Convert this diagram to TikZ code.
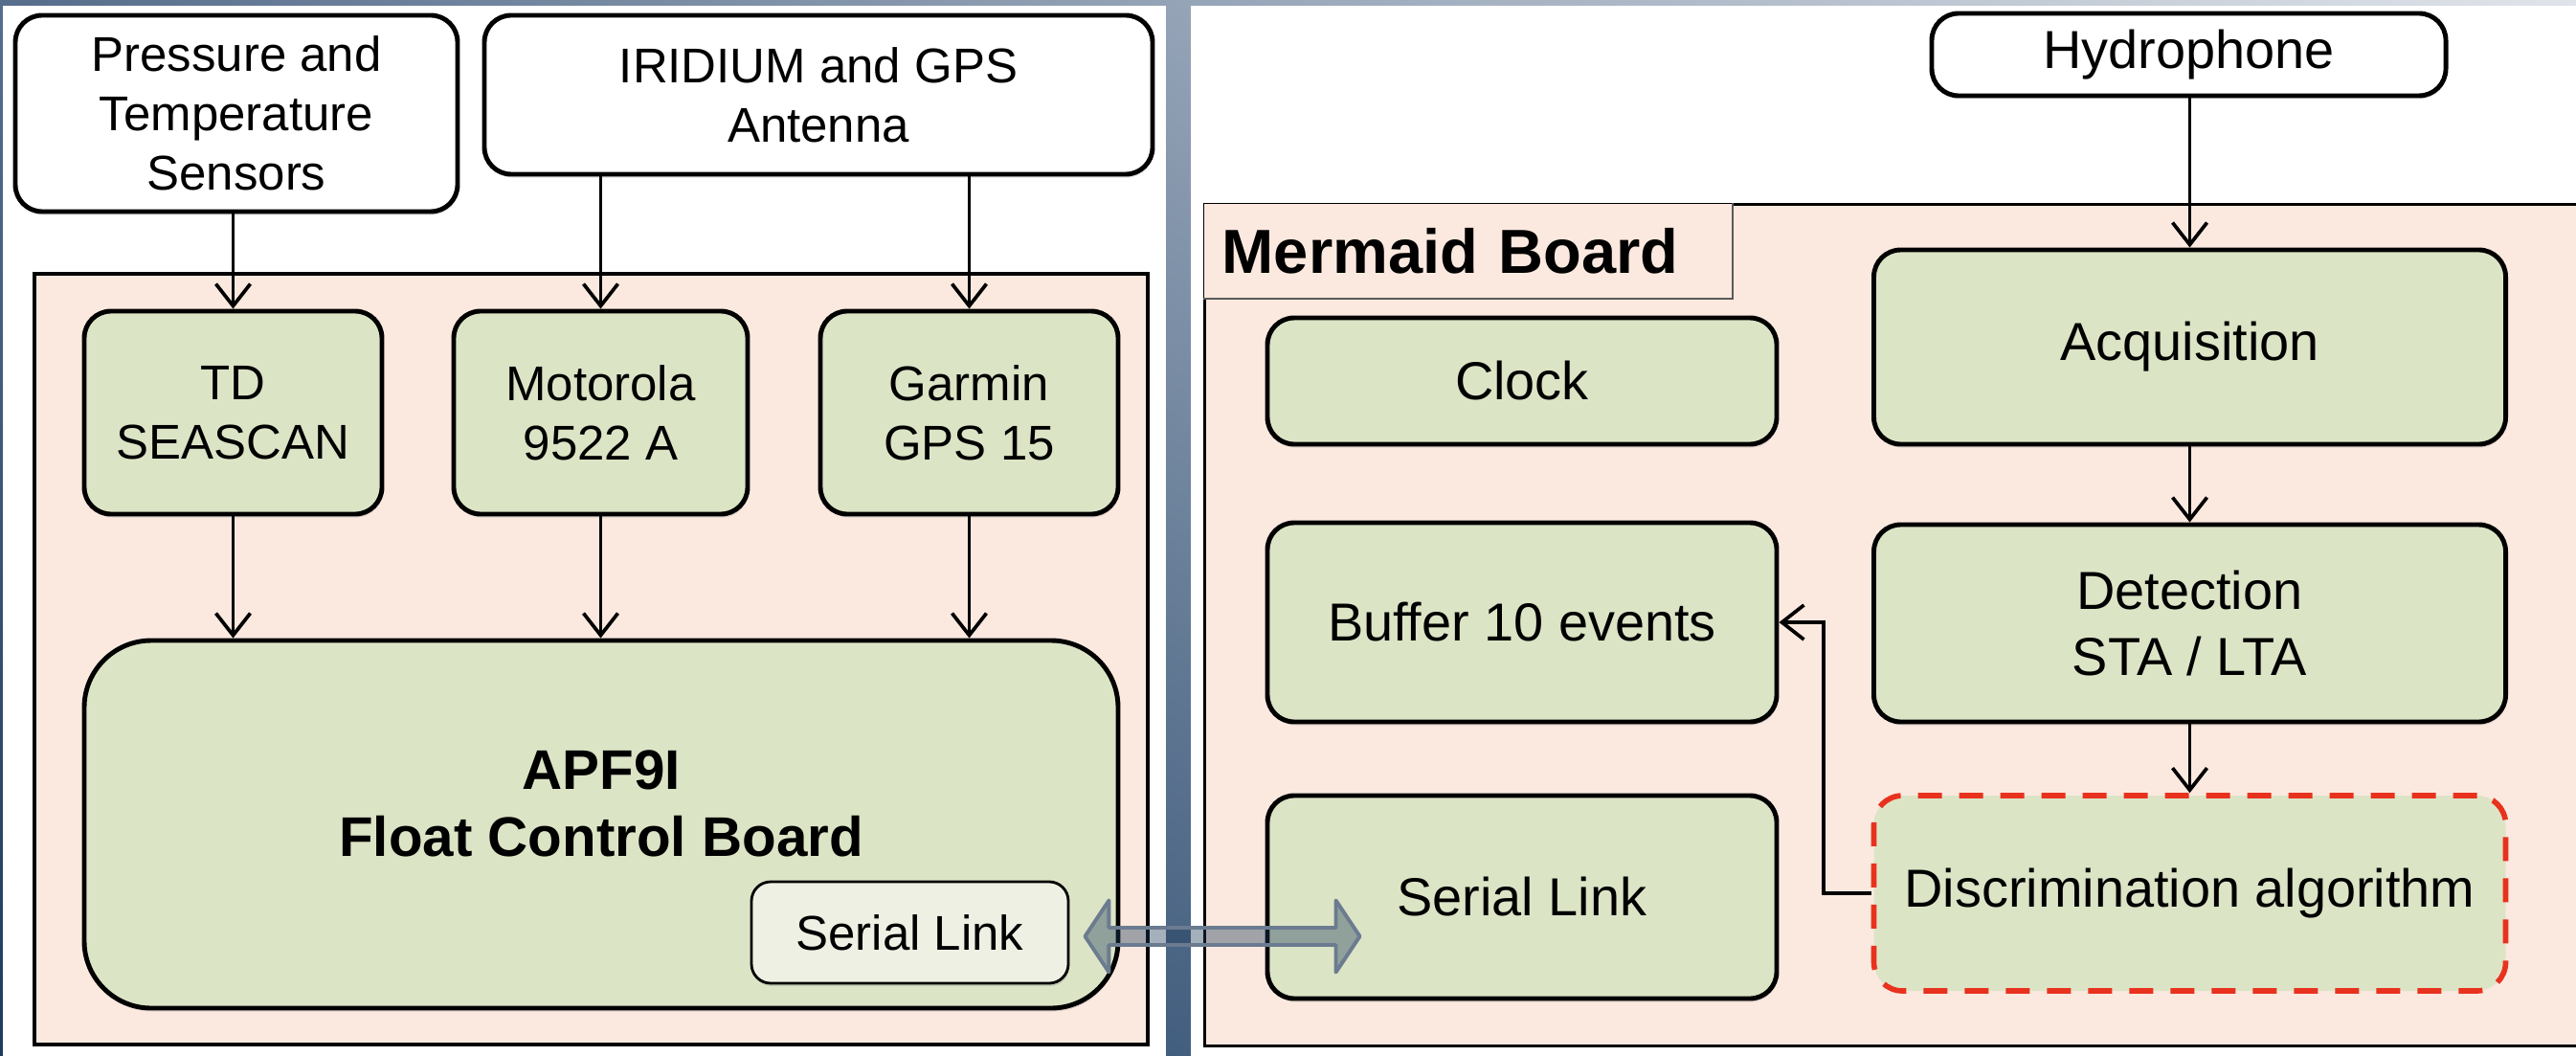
\documentclass[tikz,border=0pt]{standalone}
\usepackage{fontspec}
\setmainfont{Liberation Sans}
\usepackage{tikz}
\usetikzlibrary{calc, positioning, arrows.meta, shadows, shadings}

\definecolor{boardpink}{HTML}{FBE9DF}
\definecolor{blockgreen}{HTML}{DCE4C6}
\definecolor{linkfill}{HTML}{EEF0E3}
\definecolor{frameul}{HTML}{566E8C}
\definecolor{frameur}{HTML}{E0E4EA}
\definecolor{framell}{HTML}{1C3B5F}
\definecolor{framelr}{HTML}{7088A4}
\definecolor{arrowline}{HTML}{6B7B90}
\definecolor{arrowfill}{HTML}{1E3A5A}
\definecolor{algored}{HTML}{E8321E}

\begin{document}
\begin{tikzpicture}[
        font=\fontsize{14.5}{17.6}\selectfont,
        board/.style={draw, line width=0.9pt, fill=boardpink, inner sep=0pt},
        board_title/.style={fill=boardpink, inner xsep=0.19cm, inner ysep=0pt, text width=5.14cm, align=left, font=\fontsize{18.5}{22}\selectfont\bfseries},
        hw_box/.style={draw, line width=1.4pt, rounded corners=0.28cm, fill=white, align=center, drop shadow={shadow xshift=0.01cm, shadow yshift=-0.035cm, opacity=0.25}},
        block/.style={hw_box, fill=blockgreen},
        link_box/.style={draw, line width=0.8pt, rounded corners=0.2cm, fill=linkfill, drop shadow={shadow xshift=0.01cm, shadow yshift=-0.03cm, opacity=0.25}},
        algo_box/.style={draw=algored, line width=1.6pt, dash pattern=on 0.25cm off 0.18cm, rounded corners=0.3cm, fill=blockgreen, align=center},
        title/.style={align=center, font=\fontsize{16.6}{19.9}\selectfont\bfseries},
        arrow/.style={-{Straight Barb[length=2.3mm, width=3.6mm]}, line width=1.05pt},
        link_arrow/.style={draw=arrowline, line width=1.1pt, fill=arrowfill, fill opacity=0.4, line join=round}
    ]

    % ================= Background =================
    \useasboundingbox (0,0) rectangle (26.91,-11.03);
    \clip (0,0) rectangle (26.91,-11.03);
    \shade[upper left=frameul, upper right=frameur, lower left=framell, lower right=framelr] (0,0) rectangle (26.91,-11.03);
    \fill[white] (0.03,-0.06) rectangle (12.18,-11.1);
    \fill[white] (12.44,-0.06) rectangle (27.1,-11.1);

    % ================= APF9I float (Left Side) =================
    \node[board, minimum width=11.63cm, minimum height=8.05cm] (board_L) at (6.175,-6.885) {};

    \node[hw_box, minimum width=4.62cm, minimum height=2.05cm] (sensors) at (2.47,-1.185) {Pressure and\\Temperature\\Sensors};
    \node[hw_box, minimum width=6.98cm, minimum height=1.66cm] (antenna) at (8.55,-0.99) {IRIDIUM and GPS\\Antenna};

    \node[block, minimum width=3.11cm, minimum height=2.12cm] (seascan) at (2.435,-4.31) {TD\\SEASCAN};
    \node[block, minimum width=3.07cm, minimum height=2.12cm] (motorola) at (6.275,-4.31) {Motorola\\9522 A};
    \node[block, minimum width=3.11cm, minimum height=2.12cm] (garmin) at (10.125,-4.31) {Garmin\\GPS 15};

    \node[block, rounded corners=0.7cm, minimum width=10.8cm, minimum height=3.84cm] (apf) at (6.28,-8.61) {};
    \node[title] (apf_title) at (6.28,-8.39) {APF9I\\Float Control Board};
    \node[link_box, minimum width=3.31cm, minimum height=1.06cm] (serial_L) at (9.505,-9.74) {Serial Link};

    % sensors and antenna into the boards
    \draw[arrow] (seascan.north |- sensors.south) -- (seascan.north);
    \draw[arrow] (motorola.north |- antenna.south) -- (motorola.north);
    \draw[arrow] (garmin.north |- antenna.south) -- (garmin.north);

    % boards into the controller
    \draw[arrow] (seascan.south) -- (seascan.south |- apf.north);
    \draw[arrow] (motorola.south) -- (motorola.south |- apf.north);
    \draw[arrow] (garmin.south) -- (garmin.south |- apf.north);

    % ================= Mermaid (Right Side) =================
    \begin{scope}[font=\fontsize{15.9}{19.6}\selectfont]
    \node[board, minimum width=14.6cm, minimum height=8.79cm, anchor=north west] (board_R) at (12.57,-2.12) {};
    \node[board_title, minimum height=0.99cm, anchor=north west] (board_R_title) at (board_R.north west) {Mermaid Board};
    \draw[line width=0.6pt, gray!70!black] (board_R_title.north east) |- (board_R_title.south west);

    \node[hw_box, minimum width=5.37cm, minimum height=0.86cm] (hydrophone) at (22.865,-0.57) {Hydrophone};

    \node[block, minimum width=5.32cm, minimum height=1.32cm] (clock) at (15.9,-3.98) {Clock};
    \node[block, minimum width=5.32cm, minimum height=2.08cm] (buffer) at (15.9,-6.5) {Buffer 10 events};
    \node[block, minimum width=5.32cm, minimum height=2.12cm] (serial_R) at (15.9,-9.37) {Serial Link};

    \node[block, minimum width=6.6cm, minimum height=2.03cm] (acquisition) at (22.875,-3.625) {Acquisition};
    \node[block, minimum width=6.6cm, minimum height=2.06cm] (detection) at (22.875,-6.51) {Detection\\STA / LTA};
    \node[algo_box, minimum width=6.6cm, minimum height=2.04cm] (discrimination) at (22.875,-9.33) {Discrimination algorithm};
    \end{scope}

    % processing chain
    \draw[arrow] (hydrophone.south -| acquisition.north) -- (acquisition.north);
    \draw[arrow] (acquisition.south) -- (detection.north);
    \draw[arrow] (detection.south) -- (discrimination.north);
    \draw[arrow] (discrimination.west) -- ++(-0.5,0) |- (buffer.east);

    % ================= Serial link between boards =================
    \coordinate (link_L) at ($(serial_L.east)+(0.16,-0.04)$);
    \coordinate (link_R) at ($(link_L -| serial_R.west)+(0.99,0)$);
    \path[link_arrow] (link_L) -- ++(0.25,0.375) -- ++(0,-0.285)
        -- ($(link_R)+(-0.25,0.09)$) -- ++(0,0.285) -- (link_R)
        -- ++(-0.25,-0.375) -- ++(0,0.285)
        -- ($(link_L)+(0.25,-0.09)$) -- ++(0,-0.285) -- cycle;

\end{tikzpicture}
\end{document}
